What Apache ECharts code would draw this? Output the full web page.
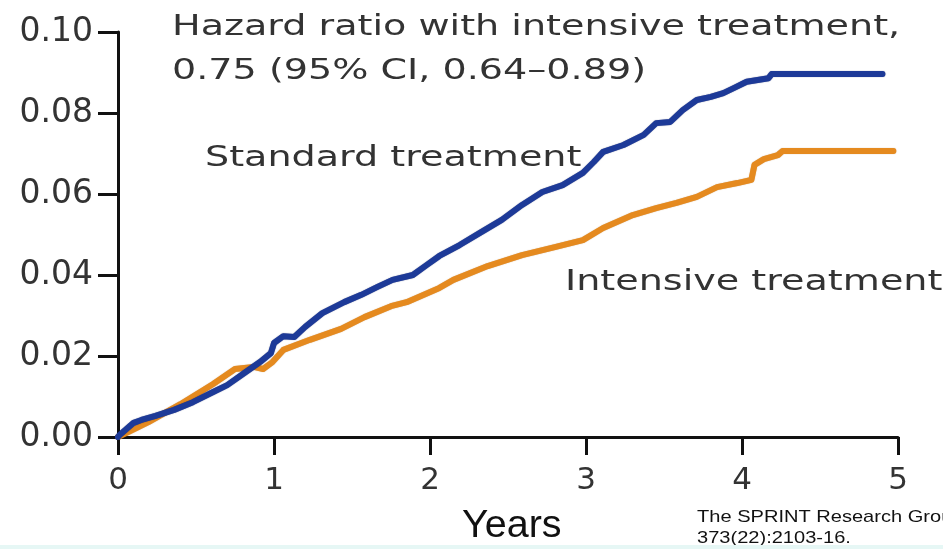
<!DOCTYPE html>
<html>
<head>
<meta charset="utf-8">
<script src="https://cdn.jsdelivr.net/npm/echarts@6/dist/echarts.min.js"></script>
<style>
  html, body { margin: 0; padding: 0; background: #fff; }
  #chart { width: 943px; height: 549px; }
</style>
</head>
<body>
<div id="chart"></div>
<script>
// x ticks (years) and y ticks (cumulative hazard)
const xTicks = [0, 1, 2, 3, 4, 5];
const yTicks = [0, 0.02, 0.04, 0.06, 0.08, 0.1];

// standard treatment curve
const standardYears = [0, 0.01, 0.10, 0.15, 0.24, 0.36, 0.48, 0.61, 0.70, 0.81, 0.91, 0.98, 1.00, 1.06, 1.13, 1.20, 1.31, 1.45, 1.56, 1.66, 1.76, 1.89, 1.98, 2.06, 2.19, 2.32, 2.46, 2.59, 2.72, 2.85, 2.98, 3.05, 3.11, 3.24, 3.37, 3.45, 3.54, 3.62, 3.71, 3.80, 3.88, 3.95, 4.03, 4.17, 4.19, 4.90];
const standardRisk = [0, 0.0005, 0.0035, 0.0042, 0.0052, 0.0067, 0.0086, 0.0111, 0.0128, 0.0158, 0.0185, 0.0207, 0.0232, 0.0249, 0.0247, 0.0272, 0.0306, 0.0333, 0.0351, 0.0370, 0.0388, 0.0400, 0.0425, 0.0447, 0.0474, 0.0504, 0.0536, 0.0573, 0.0605, 0.0622, 0.0652, 0.0679, 0.0704, 0.0721, 0.0746, 0.0775, 0.0778, 0.0807, 0.0832, 0.0840, 0.0849, 0.0862, 0.0877, 0.0886, 0.0896, 0.0896];

// intensive treatment curve
const intensiveYears = [0, 0.195, 0.40, 0.61, 0.75, 0.87, 0.93, 0.99, 1.06, 1.23, 1.43, 1.58, 1.75, 1.85, 2.06, 2.15, 2.37, 2.59, 2.80, 2.98, 3.11, 3.30, 3.45, 3.58, 3.71, 3.84, 3.97, 4.06, 4.08, 4.14, 4.23, 4.26, 4.97];
const intensiveRisk = [0, 0.0037, 0.0081, 0.0131, 0.0168, 0.0173, 0.0168, 0.0185, 0.0215, 0.0240, 0.0267, 0.0296, 0.0323, 0.0333, 0.0368, 0.0388, 0.0422, 0.0449, 0.0469, 0.0486, 0.0516, 0.0548, 0.0565, 0.0578, 0.0593, 0.0617, 0.0627, 0.0635, 0.0672, 0.0686, 0.0696, 0.0706, 0.0706];

const zip = (xs, ys) => xs.map((x, i) => [x, ys[i]]);

const chart = echarts.init(document.getElementById("chart"));
const textFont = "'DejaVu Sans', sans-serif";
// the original lettering is stretched sideways, so the notes get a scaleX
const stretch = 1.36;

const option = {
  backgroundColor: "#fff",
  animation: false,
  grid: { left: 118, right: 45, top: 32, bottom: 112, containLabel: false },
  xAxis: {
    type: "value",
    min: xTicks[0],
    max: xTicks[xTicks.length - 1],
    interval: 1,
    splitLine: { show: false },
    axisLine: { lineStyle: { color: "#111", width: 3 } },
    axisTick: { length: 18, lineStyle: { color: "#111", width: 3 } },
    axisLabel: { margin: 28, fontSize: 31, color: "#333", fontFamily: textFont }
  },
  yAxis: {
    type: "value",
    min: yTicks[0],
    max: yTicks[yTicks.length - 1],
    interval: 0.02,
    splitLine: { show: false },
    axisLine: { show: true, lineStyle: { color: "#111", width: 3 } },
    axisTick: { show: true, length: 20, lineStyle: { color: "#111", width: 3 } },
    axisLabel: {
      margin: 25, fontSize: 33, color: "#333", fontFamily: textFont,
      formatter: v => v.toFixed(2)
    }
  },
  series: [
    {
      name: "Intensive treatment",
      type: "line",
      data: zip(intensiveYears, intensiveRisk),
      showSymbol: false,
      lineStyle: { color: "#e58a1f", width: 6, cap: "round", join: "round",
        shadowColor: "rgba(160,90,10,0.5)", shadowBlur: 1 },
      z: 2
    },
    {
      name: "Standard treatment",
      type: "line",
      data: zip(standardYears, standardRisk),
      showSymbol: false,
      lineStyle: { color: "#1d3a98", width: 6, cap: "round", join: "round",
        shadowColor: "rgba(10,20,80,0.6)", shadowBlur: 1 },
      z: 3
    }
  ],
  graphic: [
    { type: "text", left: 172, top: 14, scaleX: stretch,
      style: { text: "Hazard ratio with intensive treatment,", font: "28px " + textFont, fill: "#333" } },
    { type: "text", left: 172, top: 58, scaleX: stretch,
      style: { text: "0.75 (95% CI, 0.64\u20130.89)", font: "28px " + textFont, fill: "#333" } },
    { type: "text", left: 205, top: 145, scaleX: stretch,
      style: { text: "Standard treatment", font: "28px " + textFont, fill: "#333" } },
    { type: "text", left: 565, top: 269, scaleX: stretch,
      style: { text: "Intensive treatment", font: "28px " + textFont, fill: "#333" } },
    { type: "text", left: 462, top: 508, scaleX: 1.04,
      style: { text: "Years", font: "38px 'Liberation Sans', sans-serif", fill: "#111" } },
    { type: "text", left: 697, top: 507, scaleX: 1.18,
      style: { text: "The SPRINT Research Group. N Engl J Med 2015;\n373(22):2103-16.", font: "17px 'Liberation Sans', sans-serif", lineHeight: 21, fill: "#111" } },
    { type: "rect", left: 0, top: 545, shape: { width: 943, height: 4 }, style: { fill: "#e6f7f5" } }
  ]
};

chart.setOption(option);
</script>
</body>
</html>
